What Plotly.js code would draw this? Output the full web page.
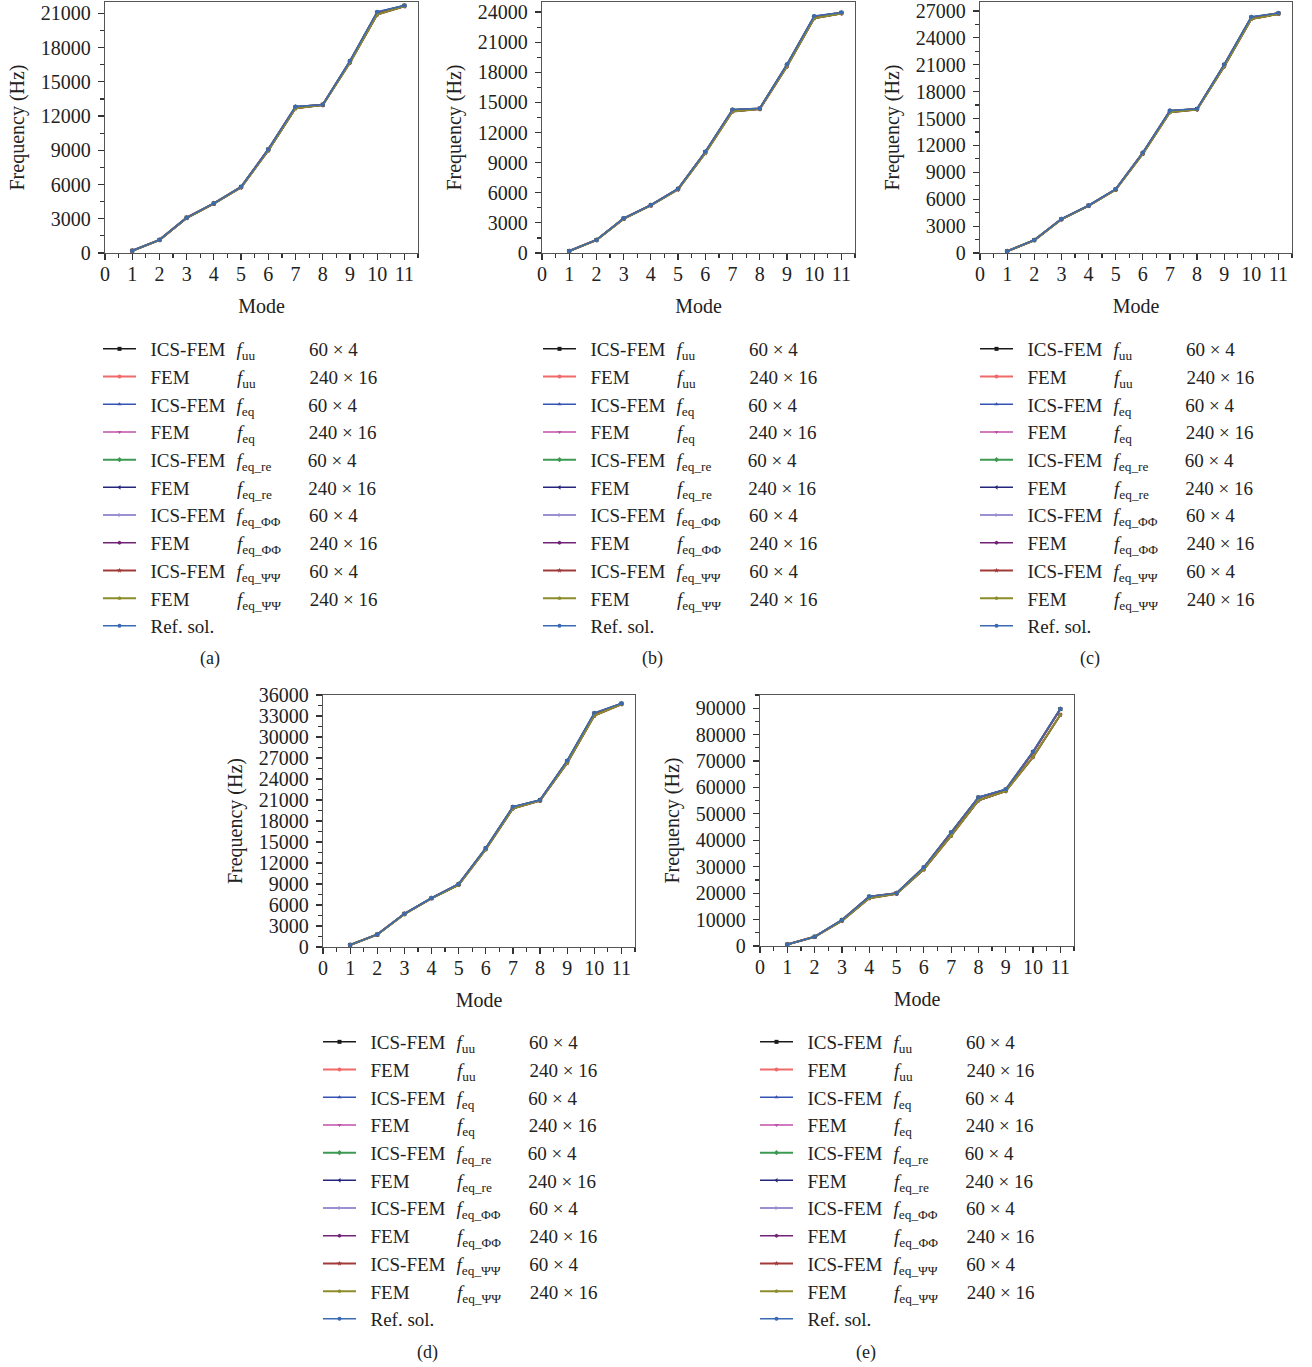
<!DOCTYPE html>
<html><head><meta charset="utf-8">
<script src="https://cdn.plot.ly/plotly-3.0.1.min.js"></script>
<style>html,body{margin:0;padding:0;background:#fff}</style>
</head><body><div id="chart" style="width:1312px;height:1367px"></div>
<script>
// ---------- data ----------
const modes = [1, 2, 3, 4, 5, 6, 7, 8, 9, 10, 11];

const aRef = [200, 1150, 3100, 4350, 5800, 9100, 12850, 13000, 16850, 21150, 21700];
const aIcs = [200, 1150, 3100, 4350, 5790, 9080, 12800, 13000, 16800, 21080, 21680];
const aFem = [190, 1130, 3060, 4320, 5750, 8980, 12680, 12960, 16680, 20900, 21620];

const bRef = [200, 1300, 3450, 4780, 6400, 10100, 14300, 14400, 18800, 23600, 23950];
const bIcs = [200, 1300, 3440, 4770, 6390, 10060, 14250, 14390, 18740, 23530, 23930];
const bFem = [190, 1280, 3400, 4740, 6330, 9950, 14100, 14330, 18580, 23380, 23860];

const cRef = [200, 1450, 3800, 5300, 7130, 11200, 15900, 16080, 21050, 26350, 26770];
const cIcs = [200, 1440, 3790, 5290, 7110, 11160, 15850, 16060, 20980, 26280, 26740];
const cFem = [190, 1420, 3750, 5250, 7050, 11050, 15700, 16000, 20800, 26100, 26660];

const dRef = [300, 1800, 4750, 7000, 9000, 14150, 20050, 21000, 26650, 33450, 34800];
const dIcs = [300, 1790, 4740, 6990, 8980, 14100, 19980, 20980, 26550, 33350, 34770];
const dFem = [290, 1760, 4690, 6950, 8880, 13950, 19780, 20900, 26280, 33050, 34680];

const eRef = [600, 3500, 9850, 18700, 20000, 29800, 43100, 56300, 59300, 73600, 89800];
const eIcs = [600, 3500, 9820, 18650, 20000, 29700, 42900, 56200, 59200, 73400, 89700];
const eFem = [580, 3450, 9500, 18100, 19800, 29000, 41700, 55100, 58600, 71500, 87500];

const methods = ['ICS-FEM', 'FEM', 'ICS-FEM', 'FEM', 'ICS-FEM', 'FEM', 'ICS-FEM', 'FEM', 'ICS-FEM', 'FEM', 'Ref. sol.'];
const fSubs = ['uu', 'uu', 'eq', 'eq', 'eq_re', 'eq_re', 'eq_ΦΦ', 'eq_ΦΦ', 'eq_ΨΨ', 'eq_ΨΨ', ''];
const meshLabels = ['60 × 4', '240 × 16', '60 × 4', '240 × 16', '60 × 4', '240 × 16', '60 × 4', '240 × 16', '60 × 4', '240 × 16', ''];
const kinds = ['ics', 'fem', 'ics', 'fem', 'ics', 'fem', 'ics', 'fem', 'ics', 'fem', 'ref'];
const captions = ['(a)', '(b)', '(c)', '(d)', '(e)'];

// ---------- styles ----------
const colors = ['#1a1a1a', '#f06a6a', '#3352b3', '#c04fa8', '#3d9a52', '#25257c', '#9a90d2', '#722277', '#a23a3a', '#8c8c2a', '#3a6ab2'];
const widths = [1.5, 2, 1.5, 1.5, 2, 1.5, 2, 1.5, 2, 2, 1.5];
const symbols = ['square', 'circle', 'triangle-up', 'triangle-down', 'diamond', 'triangle-left', 'triangle-right', 'hexagon', 'star', 'pentagon', 'circle'];

const W = 1312, H = 1367;
const FONT = 'Liberation Serif, Times New Roman, serif';
const LEG_FS = 19;
const COL_F = 86, COL_MESH = 158;   // column starts, px after the legend text start

// text measuring for legend column alignment
const ctx = document.createElement('canvas').getContext('2d');
function tw(txt, size, italic) {
  ctx.font = (italic ? 'italic ' : '') + size + 'px "Liberation Serif"';
  return ctx.measureText(txt).width;
}
const NBSP = '\u00a0', HAIR = '\u200a';
const wN = tw(NBSP, LEG_FS), wH = tw(HAIR, LEG_FS);
function padTo(px) {
  if (px <= 0) return NBSP;
  let n = Math.floor(px / wN);
  let rem = px - n * wN;
  let h = 0;
  if (wH > 0.3 && wH < wN) h = Math.round(rem / wH);
  else if (rem > wN / 2) n++;
  return NBSP.repeat(n) + HAIR.repeat(h);
}
function legendName(i) {
  const lead = NBSP + NBSP;
  if (!fSubs[i]) return lead + methods[i];
  const w1 = tw(methods[i], LEG_FS);
  const fw = tw('f', LEG_FS, true) + tw(fSubs[i], LEG_FS * 0.7);
  return lead + methods[i] + padTo(COL_F - w1) + '<i>f</i><sub>' + fSubs[i] + '</sub>' +
    padTo(COL_MESH - COL_F - fw) + meshLabels[i];
}

const panels = [
  {data: {ref: aRef, ics: aIcs, fem: aFem}, x0: 105, x1: 418, y0: 2, y1: 253, ymax: 22000, dt: 3000, legL: 98, legT: 330, cap: [210, 658]},
  {data: {ref: bRef, ics: bIcs, fem: bFem}, x0: 542, x1: 855, y0: 2, y1: 253, ymax: 25000, dt: 3000, legL: 538, legT: 330, cap: [652, 658]},
  {data: {ref: cRef, ics: cIcs, fem: cFem}, x0: 980, x1: 1292, y0: 2, y1: 253, ymax: 28000, dt: 3000, legL: 975, legT: 330, cap: [1090, 658]},
  {data: {ref: dRef, ics: dIcs, fem: dFem}, x0: 323, x1: 635, y0: 695, y1: 947, ymax: 36000, dt: 3000, legL: 318, legT: 1023, cap: [427, 1352]},
  {data: {ref: eRef, ics: eIcs, fem: eFem}, x0: 760, x1: 1074, y0: 695, y1: 946, ymax: 95000, dt: 10000, legL: 755, legT: 1023, cap: [866, 1352]}
];

const traces = [];
const layout = {
  width: W, height: H, autosize: false,
  margin: {l: 0, r: 0, t: 0, b: 0},
  paper_bgcolor: '#fff', plot_bgcolor: '#fff',
  font: {family: FONT, size: 19, color: '#222'},
  showlegend: true,
  annotations: []
};

panels.forEach((p, k) => {
  const s = k === 0 ? '' : String(k + 1);
  const legId = 'legend' + s;
  kinds.forEach((kind, i) => {
    traces.push({
      type: 'scatter', mode: 'lines+markers',
      x: modes, y: p.data[kind],
      name: legendName(i),
      xaxis: 'x' + s, yaxis: 'y' + s, legend: legId,
      line: {color: colors[i], width: widths[i]},
      marker: {symbol: symbols[i], size: 4, color: colors[i], line: {width: 0}},
      hoverinfo: 'skip'
    });
  });
  const common = {
    showline: true, mirror: true, linecolor: '#555', linewidth: 1.2,
    showgrid: false, zeroline: false,
    ticks: 'outside', ticklen: 6, tickwidth: 1.2, tickcolor: '#333',
    tickfont: {family: FONT, size: 20, color: '#222'},
    tickformat: 'd', ticklabeloverflow: 'allow'
  };
  layout['xaxis' + s] = Object.assign({}, common, {
    domain: [p.x0 / W, p.x1 / W], anchor: 'y' + s,
    range: [0, 11.5], tickmode: 'linear', tick0: 0, dtick: 1,
    ticklabelstandoff: -3,
    minor: {dtick: 0.5, tick0: 0, ticks: 'outside', ticklen: 4, tickcolor: '#333'},
    title: {text: 'Mode', font: {family: FONT, size: 20, color: '#222'}, standoff: 14}
  });
  layout['yaxis' + s] = Object.assign({}, common, {
    domain: [1 - p.y1 / H, 1 - p.y0 / H], anchor: 'x' + s,
    range: [0, p.ymax], tickmode: 'linear', tick0: 0, dtick: p.dt,
    ticklabelstandoff: 3,
    minor: {dtick: p.dt / 2, tick0: 0, ticks: 'outside', ticklen: 4, tickcolor: '#333'},
    title: {text: 'Frequency (Hz)', font: {family: FONT, size: 20, color: '#222'}, standoff: 10}
  });
  layout[legId] = {
    x: p.legL / W, y: 1 - p.legT / H, xanchor: 'left', yanchor: 'top',
    bgcolor: 'rgba(0,0,0,0)', borderwidth: 0,
    font: {family: FONT, size: LEG_FS, color: '#222'},
    itemwidth: 33, tracegroupgap: 0, traceorder: 'normal'
  };
  layout.annotations.push({
    xref: 'paper', yref: 'paper', x: p.cap[0] / W, y: 1 - p.cap[1] / H,
    xanchor: 'center', yanchor: 'middle', showarrow: false,
    text: captions[k], font: {family: FONT, size: 18, color: '#222'}
  });
});

Plotly.newPlot(document.getElementById('chart'), traces, layout, {staticPlot: true, displayModeBar: false});
</script>
</body></html>
